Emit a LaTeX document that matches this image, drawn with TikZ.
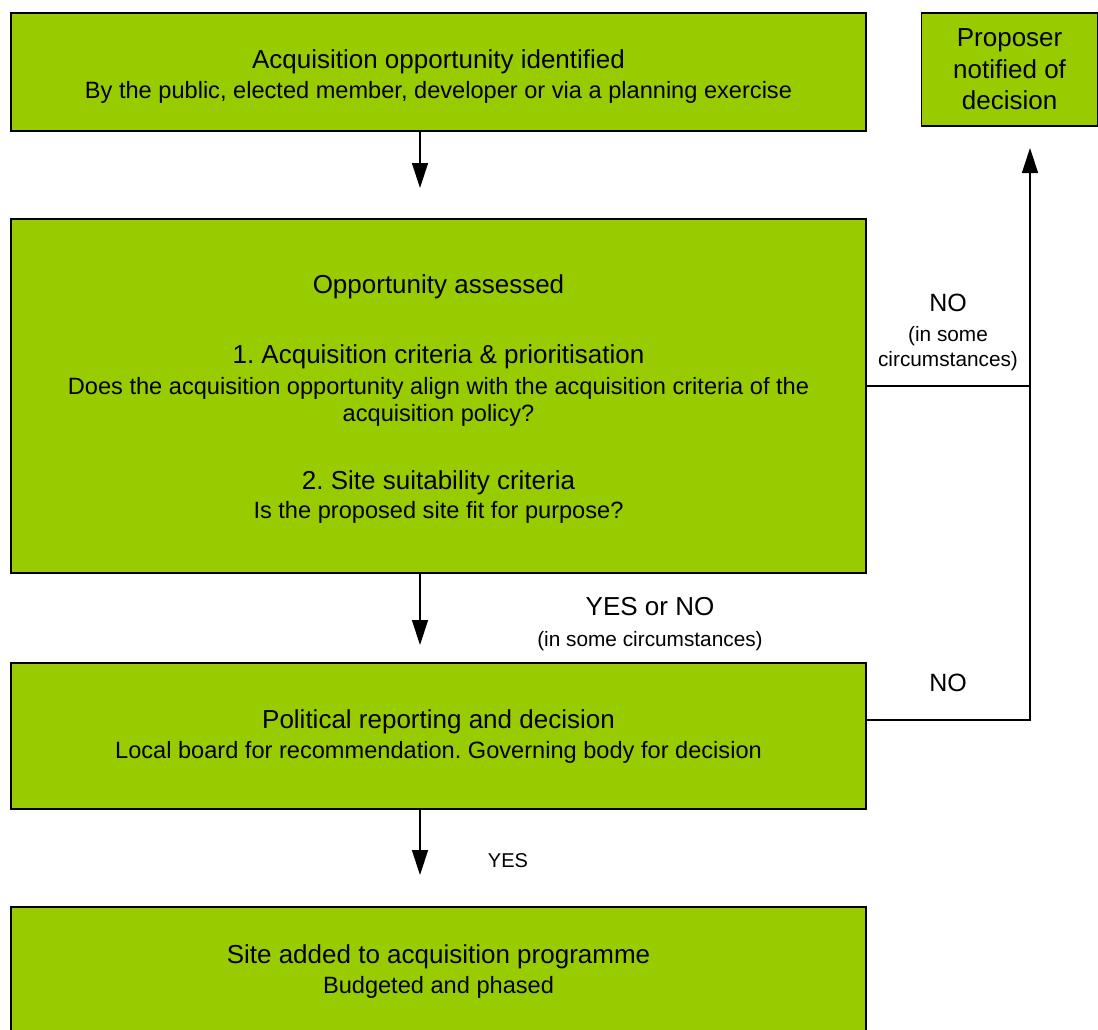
\documentclass[tikz,border=0pt]{standalone}
\usepackage{fontspec}
\setmainfont{Liberation Sans}
\usetikzlibrary{arrows.meta}
\definecolor{boxgreen}{RGB}{153,204,0}
\newcommand\subtxt[1]{{\fontsize{23.6}{27}\selectfont #1}}
\newcommand\partxt[1]{{\fontsize{20.8}{24}\selectfont #1}}
\begin{document}
\frenchspacing
\begin{tikzpicture}[x=1pt,y=-1pt,
  box/.style={draw=black, line width=1.5pt, fill=boxgreen, inner sep=0pt},
  txt/.style={inner sep=0pt, align=center, font=\fontsize{26}{30}\selectfont},
  lbl/.style={inner sep=0pt, align=center, font=\fontsize{25}{25}\selectfont},
  conn/.style={line width=1.3pt},
  arr/.style={line width=1.3pt, -{Triangle[length=25pt,width=16pt]}}]
\useasboundingbox (0,0) rectangle (1098,1029);
\clip (0,0) rectangle (1098,1029);
\fill[white] (0,0) rectangle (1098,1029);

\node[box, minimum width=855pt, minimum height=118pt] (b1) at (438.5,72) {};
\node[txt] (b1t) at ([yshift=-4.5pt]b1.center)
  {Acquisition opportunity identified\\\subtxt{By the public, elected member, developer or via a planning exercise}};
\node[box, minimum width=176pt, minimum height=113pt] (p) at (1009.6,69.3) {};
\node[txt] (pt) at (p.center) {Proposer\\[1.5pt]notified of\\[1.5pt]decision};
\node[box, minimum width=855pt, minimum height=354pt] (b3) at (438.5,396) {};
\node[txt] (b3t) at ([yshift=-3pt]b3.center)
  {Opportunity assessed\\[40pt]1. Acquisition criteria \& prioritisation\\[1pt]\subtxt{Does the acquisition opportunity align with the acquisition criteria of the}\\[-3pt]\subtxt{acquisition policy?}\\[38pt]2. Site suitability criteria\\[-1pt]\subtxt{Is the proposed site fit for purpose?}};
\node[box, minimum width=855pt, minimum height=146pt] (b4) at (438.5,736) {};
\node[txt] (b4t) at ([yshift=-0.5pt]b4.center)
  {Political reporting and decision\\\subtxt{Local board for recommendation. Governing body for decision}};
\node[box, minimum width=855pt, minimum height=126pt] (b5) at (438.5,970) {};
\node[txt] (b5t) at ([yshift=-1.5pt]b5.center)
  {Site added to acquisition programme\\\subtxt{Budgeted and phased}};

\coordinate (t1) at (420,188);
\coordinate (t2) at (420,645);
\coordinate (t3) at (420,875);
\coordinate (j1) at (1030,386);
\coordinate (j2) at (1030,720);
\coordinate (tp) at (1030,148);

\draw[arr] (b1.south -| t1) -- (t1);
\draw[arr] (b3.south -| t2) -- (t2);
\draw[arr] (b4.south -| t3) -- (t3);
\draw[conn] (j1 -| b3.east) -- (j1);
\draw[arr] (j2 -| b4.east) -- (j2) -- (tp);

\node[lbl] (n1) at (948,332) {NO\\[5pt]\partxt{(in some}\\[0pt]\partxt{circumstances)}};
\node[lbl, font=\fontsize{26}{31}\selectfont] (n2) at (650,624) {YES or NO\\\partxt{(in some circumstances)}};
\node[lbl] (n3) at (948,683) {NO};
\node[lbl, font=\fontsize{20}{24}\selectfont] (n4) at (508,861) {YES};
\end{tikzpicture}
\end{document}
